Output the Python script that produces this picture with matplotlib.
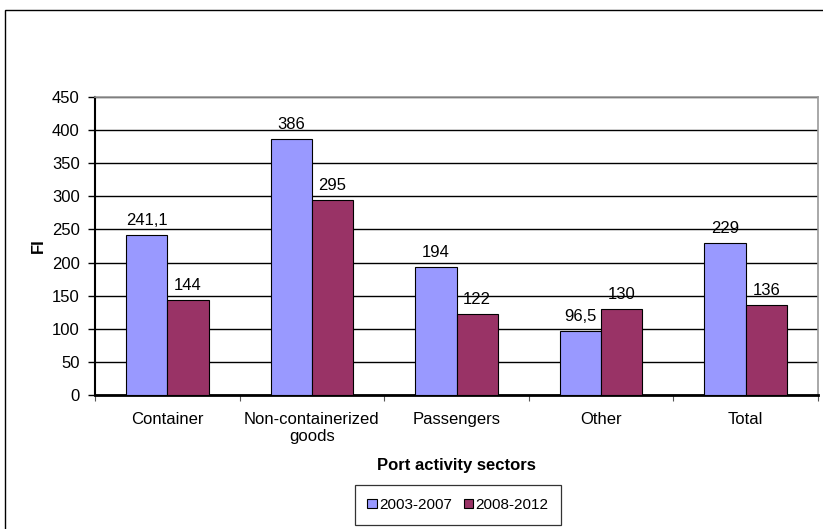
import numpy as np
import matplotlib.pyplot as plt
from matplotlib.patches import Rectangle

plt.rcParams['font.family'] = ['Liberation Sans', 'DejaVu Sans']

# ____________ data ____________
sectors = ['Container', 'Non-containerized\ngoods', 'Passengers', 'Other', 'Total']
fi_2003_2007 = [241.1, 386, 194, 96.5, 229]
fi_2008_2012 = [144, 295, 122, 130, 136]
series_names = ['2003-2007', '2008-2012']

FS = 12


def fmt(v):
    # comma decimal separator, no trailing zero for integers
    if float(v).is_integer():
        return str(int(v))
    return ('%g' % v).replace('.', ',')


fig = plt.figure(figsize=(8.23, 5.29), dpi=100)
ax = fig.add_axes([95 / 823, 134 / 529, 723 / 823, 298 / 529])

# outer chart frame (cut off on the right and bottom)
fig.patches.append(Rectangle((5 / 823, -0.05), 1.2, (529 - 10) / 529 + 0.05,
                             transform=fig.transFigure, fill=False,
                             edgecolor='black', linewidth=1.0))

x = np.arange(len(sectors))
w = 1 / 3.5
b1 = ax.bar(x - w / 2, fi_2003_2007, w, color='#9999FF', edgecolor='black',
            linewidth=0.8, label=series_names[0], zorder=3)
b2 = ax.bar(x + w / 2, fi_2008_2012, w, color='#993366', edgecolor='black',
            linewidth=0.8, label=series_names[1], zorder=3)

for bars, vals in [(b1, fi_2003_2007), (b2, fi_2008_2012)]:
    for r, v in zip(bars, vals):
        ax.annotate(fmt(v), (r.get_x() + r.get_width() / 2, v),
                    xytext=(0, 5), textcoords='offset points',
                    ha='center', va='bottom', fontsize=FS)

ax.set_xlim(-0.5, len(sectors) - 0.5)
ax.set_ylim(0, 450)
ax.set_yticks(np.arange(0, 451, 50))
ax.yaxis.grid(True, color='black', linewidth=1.0, zorder=0)
ax.set_axisbelow(True)

# category labels between boundary ticks
ax.set_xticks(x)
ax.set_xticklabels(sectors, fontsize=FS)
ax.set_xticks(np.arange(-0.5, len(sectors)), minor=True)
ax.tick_params(axis='x', which='major', length=0, pad=12)
ax.tick_params(axis='x', which='minor', length=4, width=0.8, color='#555555')
ax.tick_params(axis='y', length=5, width=1.0, labelsize=FS, pad=6)

for s in ['top', 'right']:
    ax.spines[s].set_color('#999999')
    ax.spines[s].set_linewidth(1.2)
ax.spines['left'].set_linewidth(1.5)
ax.spines['bottom'].set_linewidth(2.0)

ax.set_xlabel('Port activity sectors', fontsize=FS, fontweight='bold', labelpad=10)
ax.set_ylabel('FI', fontsize=FS, fontweight='bold', labelpad=4)

leg = fig.legend(loc='center', bbox_to_anchor=(458 / 823, 1 - 505 / 529),
                 ncol=2, fontsize=11, frameon=True, fancybox=False,
                 handlelength=0.6, handleheight=0.6, handletextpad=0.15,
                 columnspacing=0.8, borderpad=0.85, borderaxespad=0)
leg.get_frame().set_edgecolor('black')
leg.get_frame().set_linewidth(0.9)

fig.savefig('out.png', dpi=100)
